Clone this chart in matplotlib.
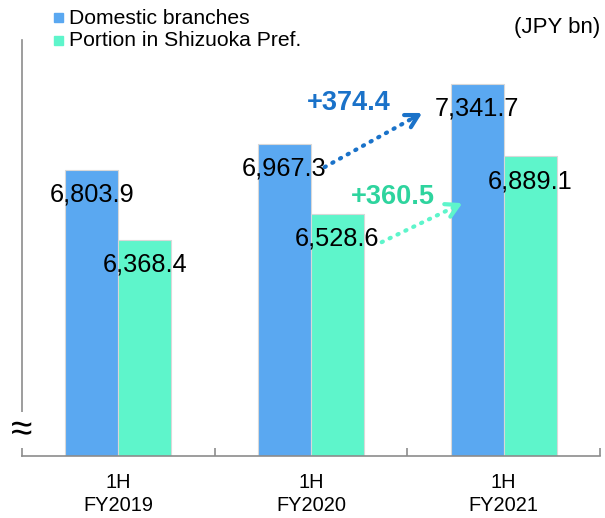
import matplotlib.pyplot as plt
import numpy as np

plt.rcParams['font.family'] = ['Liberation Sans', 'DejaVu Sans']

periods = ['1H\nFY2019', '1H\nFY2020', '1H\nFY2021']
domestic = [6803.9, 6967.3, 7341.7]
shizuoka = [6368.4, 6528.6, 6889.1]
series_names = ['Domestic branches', 'Portion in Shizuoka Pref.']
diff_domestic = '+374.4'
diff_shizuoka = '+360.5'

blue = '#5AA8F1'
green = '#5EF5CB'
blue_txt = '#1A72C9'
green_txt = '#2ED49E'

fig = plt.figure(figsize=(6.05, 5.18), dpi=100)
ax = fig.add_axes([0.0364, 0.1197, 0.9553, 0.8031])

x = np.arange(len(periods))
w = 0.275
b1 = ax.bar(x - w / 2, domestic, w, color=blue, edgecolor='#d8d8d8', linewidth=0.8, zorder=2)
b2 = ax.bar(x + w / 2, shizuoka, w, color=green, edgecolor='#d8d8d8', linewidth=0.8, zorder=2)

ax.set_ylim(5017, 7616)
ax.set_xlim(-0.5, 2.5)

for bars, vals in ((b1, domestic), (b2, shizuoka)):
    for bar, v in zip(bars, vals):
        ax.text(bar.get_x() + bar.get_width() / 2, v - 155, f'{v:,.1f}',
                ha='center', va='center', fontsize=18.3, color='black', zorder=4)


def dotted_arrow(start, end, color):
    # dotted shaft, solid open head
    ax.annotate('', xy=end, xytext=start,
                arrowprops=dict(arrowstyle='-', color=color, lw=3, linestyle=(0, (0.3, 1.8)),
                                capstyle='round', shrinkA=0, shrinkB=4), zorder=5)
    near = (start[0] + 0.9 * (end[0] - start[0]), start[1] + 0.9 * (end[1] - start[1]))
    ax.annotate('', xy=end, xytext=near,
                arrowprops=dict(arrowstyle='->,head_length=0.9,head_width=0.5', color=color,
                                lw=3, shrinkA=0, shrinkB=0), zorder=5)


dotted_arrow((1.071, 6822), (1.577, 7160), blue_txt)
ax.text(1.194, 7222, diff_domestic, ha='center', va='center', fontsize=19.5,
        fontweight='bold', color=blue_txt)
dotted_arrow((1.367, 6353), (1.786, 6597), green)
ax.text(1.423, 6635, diff_shizuoka, ha='center', va='center', fontsize=19.5,
        fontweight='bold', color=green_txt)

# axes styling
for s in ('top', 'right'):
    ax.spines[s].set_visible(False)
ax.spines['left'].set_color('#8c8c8c')
ax.spines['bottom'].set_color('#8c8c8c')
ax.spines['left'].set_linewidth(1.2)
ax.spines['bottom'].set_linewidth(1.2)
ax.set_yticks([])
ax.set_xticks(x)
ax.set_xticklabels(periods, fontsize=14.4, linespacing=1.3)
ax.tick_params(axis='x', which='major', length=0, pad=12)
ax.set_xticks([0.5, 1.5, 2.5], minor=True)
ax.tick_params(axis='x', which='minor', direction='in', length=6, color='#8c8c8c', width=1.2)

# axis break mark
ax.text(0.0, 0.062, '\u2248', transform=ax.transAxes, ha='center', va='center',
        fontsize=28, color='black', zorder=6,
        bbox=dict(facecolor='white', edgecolor='none', pad=0))

# legend
fig.patches.append(plt.Rectangle((54 / 605, 1 - 22 / 518), 9 / 605, 9 / 518,
                                 transform=fig.transFigure, color=blue))
fig.patches.append(plt.Rectangle((54 / 605, 1 - 45 / 518), 9 / 605, 9 / 518,
                                 transform=fig.transFigure, color=green))
fig.text(69 / 605, 1 - 18 / 518, series_names[0], fontsize=15.2, va='center')
fig.text(69 / 605, 1 - 41 / 518, series_names[1], fontsize=15.2, va='center')
fig.text(600 / 605, 1 - 27 / 518, '(JPY bn)', fontsize=16, va='center', ha='right')

fig.savefig('out.png', dpi=100)
